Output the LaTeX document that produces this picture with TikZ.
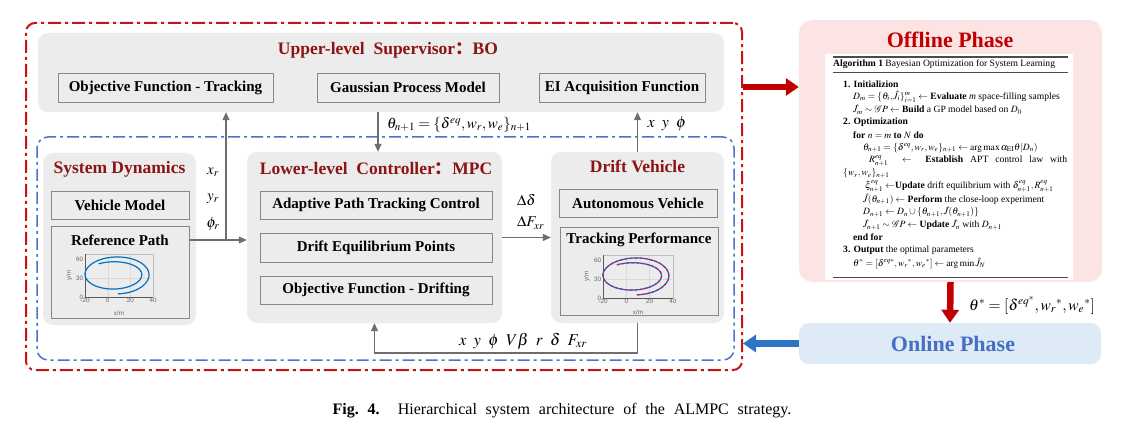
\documentclass[tikz,border=0pt]{standalone}
\usepackage{mathptmx}
\usepackage{fontspec}
\setmainfont{Liberation Serif}
\newfontfamily\cjkfont{Noto Sans CJK SC}
\newfontfamily\plotfont{Liberation Sans}
\usetikzlibrary{arrows.meta}
\definecolor{outerred}{RGB}{200,20,20}
\definecolor{titlered}{RGB}{140,20,20}
\definecolor{dashblue}{RGB}{75,115,200}
\definecolor{grayfill}{RGB}{236,236,236}
\definecolor{boxline}{RGB}{135,135,135}
\definecolor{arrgray}{RGB}{110,110,110}
\definecolor{pinkfill}{RGB}{253,228,228}
\definecolor{lightblue}{RGB}{222,234,246}
\definecolor{onlineblue}{RGB}{70,112,196}
\definecolor{arrowblue}{RGB}{46,117,198}
\definecolor{phasered}{RGB}{192,0,0}
\definecolor{plotblue}{RGB}{0,114,189}
\definecolor{plotred}{RGB}{225,20,90}
\tikzset{
  grouppanel/.style={fill=grayfill, rounded corners=10pt, inner sep=0pt},
  itembox/.style={draw=boxline, line width=0.9pt, fill=grayfill, inner sep=0pt,
    font=\fontsize{15}{17}\selectfont\bfseries},
  grouptitle/.style={text=titlered, inner sep=0pt, font=\fontsize{17.5}{20}\selectfont\bfseries},
  flow/.style={draw=arrgray, line width=1.1pt, -{Triangle[length=8pt,width=7pt]}},
  mlabel/.style={inner sep=0pt, font=\fontsize{15}{17}\selectfont},
  algo/.style={inner sep=0pt, anchor=west, font=\fontsize{9.6}{10}\selectfont},
  fatred/.style={draw=phasered, line width=6.5pt, -{Triangle[length=13pt,width=17pt]}},
  fatblue/.style={draw=arrowblue, line width=6.5pt, -{Triangle[length=13pt,width=17pt]}},
  ticklab/.style={inner sep=0pt, text=black!60, font=\plotfont\fontsize{6.3}{6.3}\selectfont},
}
\begin{document}
\begin{tikzpicture}[x=1pt,y=-1pt]
\useasboundingbox[fill=white] (0,0) rectangle (1129,430);

% outer frames
\node[draw=outerred, line width=2pt, rounded corners=9pt, dash pattern=on 13pt off 4pt on 3pt off 4pt,
      minimum width=716pt, minimum height=347pt, inner sep=0pt] (outer) at (384,196.5) {};
\node[draw=dashblue, line width=1.5pt, rounded corners=11pt, dash pattern=on 12pt off 4pt on 3pt off 4pt,
      minimum width=697pt, minimum height=223pt, inner sep=0pt] (inner) at (385.5,248.5) {};

% upper supervisor
\node[grouppanel, minimum width=686pt, minimum height=79pt] (upper) at (381,72.5) {};
\node[grouptitle] (upperT) at (388,50) {Upper-level\ \ Supervisor{\cjkfont ：}BO};
\node[itembox, minimum width=215pt, minimum height=29pt] (objT) at (165.5,87.5) {Objective Function - Tracking};
\node[itembox, minimum width=182pt, minimum height=29pt] (gpm) at (408,87.5) {Gaussian Process Model};
\node[itembox, minimum width=166pt, minimum height=29pt] (ei) at (622,87.5) {EI Acquisition Function};

% system dynamics
\node[grouppanel, minimum width=153pt, minimum height=172pt] (sys) at (119.5,239) {};
\node[grouptitle] (sysT) at (119.5,169) {System Dynamics};
\node[itembox, minimum width=138pt, minimum height=28pt] (vm) at (120,205) {Vehicle Model};
\node[itembox, minimum width=138pt, minimum height=92pt] (rp) at (120,272) {};
\node[inner sep=0pt, font=\fontsize{15}{17}\selectfont\bfseries] (rpT) at (120,240) {Reference Path};

% reference path plot
\begin{scope}[shift={(107.7,297)}, xscale=1.133, yscale=-0.633]
  \draw[black!15, line width=0.4pt] (0,0) -- (0,68) (20,0) -- (20,68) (-20,30) -- (40,30);
  \draw[black!25, line width=0.5pt] (-20,68) -- (40,68) -- (40,0);
  \draw[black!65, line width=0.6pt] (-20,68) -- (-20,0) -- (40,0);
  \draw[plotblue, line width=1.2pt] plot[domain=-90:480, samples=160, smooth, variable=\t]
    ({-20+(29-5*((\t+90)/570))*(1+cos(\t))}, {36+(31-12*((\t+90)/570))*sin(\t)});
  \node[ticklab, anchor=north] (rx1) at (-20,-2) {-20};
  \node[ticklab, anchor=north] (rx2) at (0,-2) {0};
  \node[ticklab, anchor=north] (rx3) at (20,-2) {20};
  \node[ticklab, anchor=north] (rx4) at (40,-2) {40};
  \node[ticklab, anchor=east] (ry1) at (-21.5,0) {0};
  \node[ticklab, anchor=east] (ry2) at (-21.5,30) {30};
  \node[ticklab, anchor=east] (ry3) at (-21.5,60) {60};
  \node[ticklab, rotate=90] (rylab) at (-34,34) {y/m};
  \node[ticklab] (rxlab) at (10,-25) {x/m};
\end{scope}

% lower-level controller
\node[grouppanel, minimum width=255pt, minimum height=171pt] (llc) at (374.5,237.5) {};
\node[grouptitle] (llcT) at (376,169) {Lower-level\ \ Controller{\cjkfont ：}MPC};
\node[itembox, minimum width=232pt, minimum height=28pt] (aptc) at (376,205) {Adaptive Path Tracking Control};
\node[itembox, minimum width=232pt, minimum height=29pt] (dep) at (376,247.5) {Drift Equilibrium Points};
\node[itembox, minimum width=232pt, minimum height=28pt] (ofd) at (376,290) {Objective Function - Drifting};

% drift vehicle
\node[grouppanel, minimum width=173pt, minimum height=171pt] (dv) at (637.5,237.5) {};
\node[grouptitle] (dvT) at (637.5,166) {Drift Vehicle};
\node[itembox, minimum width=158pt, minimum height=28pt] (av) at (638,203) {Autonomous Vehicle};
\node[itembox, minimum width=158pt, minimum height=88pt] (tp) at (639,271) {};
\node[inner sep=0pt, font=\fontsize{15}{17}\selectfont\bfseries] (tpT) at (639,240) {Tracking Performance};

% tracking performance plot
\begin{scope}[shift={(626.3,298)}, xscale=1.167, yscale=-0.633]
  \draw[black!15, line width=0.4pt] (0,0) -- (0,68) (20,0) -- (20,68) (-20,30) -- (40,30);
  \draw[black!25, line width=0.5pt] (-20,68) -- (40,68) -- (40,0);
  \draw[black!65, line width=0.6pt] (-20,68) -- (-20,0) -- (40,0);
  \draw[plotblue, line width=1.2pt] plot[domain=-90:480, samples=160, smooth, variable=\t]
    ({-20+(29-5*((\t+90)/570))*(1+cos(\t))}, {36+(31-12*((\t+90)/570))*sin(\t)});
  \draw[plotred, line width=1.2pt, dash pattern=on 2.5pt off 2.5pt] plot[domain=-90:480, samples=160, smooth, variable=\t]
    ({-20+(29-5*((\t+90)/570))*(1+cos(\t))}, {36+(31-12*((\t+90)/570))*sin(\t)});
  \node[ticklab, anchor=north] (tx1) at (-20,-2) {-20};
  \node[ticklab, anchor=north] (tx2) at (0,-2) {0};
  \node[ticklab, anchor=north] (tx3) at (20,-2) {20};
  \node[ticklab, anchor=north] (tx4) at (40,-2) {40};
  \node[ticklab, anchor=east] (ty1) at (-21.5,0) {0};
  \node[ticklab, anchor=east] (ty2) at (-21.5,30) {30};
  \node[ticklab, anchor=east] (ty3) at (-21.5,60) {60};
  \node[ticklab, rotate=90] (tylab) at (-34,34) {y/m};
  \node[ticklab] (txlab) at (10,-23) {x/m};
\end{scope}

% connectors in the left part
\coordinate (j1) at (226,240);
\coordinate (gx) at (378,0);
\coordinate (fb) at (0,353);
\draw[flow] (rpT.east -| rp.east) -- (rpT.east -| llc.west);
\draw[flow] (j1) -- (j1 |- upper.south);
\draw[flow] (gx |- upper.south) -- (gx |- llc.north);
\draw[flow] (dv.north) -- (dv.north |- upper.south);
\draw[flow] (llc.east) -- (dv.west);
\draw[flow] (dv.south) -- (dv.south |- fb) -| (llc.south);

% math labels
\node[mlabel] (lxr) at (213,172) {$x_r$};
\node[mlabel] (lyr) at (213,199) {$y_r$};
\node[mlabel] (lpr) at (213,224) {$\phi_r$};
\node[mlabel, font=\fontsize{15}{17}\selectfont] (ltheta) at (459,125) {$\theta_{n+1}=\{\delta^{eq},w_r,w_e\}_{n+1}$};
\node[mlabel, font=\fontsize{16}{18}\selectfont] (lxyp) at (667,124) {$x\;\;y\;\;\phi$};
\node[mlabel, anchor=west] (ldd) at (517,200) {$\Delta\delta$};
\node[mlabel, anchor=west] (ldf) at (517,223) {$\Delta F_{xr}$};
\node[mlabel, font=\fontsize{16.5}{18}\selectfont] (lfb) at (523,341) {$x\;\;y\;\;\phi\;\;V\beta\;\;r\;\;\delta\;\;F_{xr}$};

% offline phase
\node[fill=pinkfill, rounded corners=13pt, minimum width=303pt, minimum height=262pt, inner sep=0pt] (off) at (950.5,151) {};
\node[inner sep=0pt, text=phasered, font=\fontsize{22}{24}\selectfont\bfseries] (offT) at (950,40) {Offline Phase};
\node[fill=white, minimum width=248pt, minimum height=226pt, inner sep=0pt] (panel) at (949,167) {};
\coordinate (r1) at (833,57);
\coordinate (r2) at (833,72);
\coordinate (r3) at (833,277);
\coordinate (rr) at (1068,0);
\draw[black!70, line width=1.2pt] (r1) -- (r1 -| rr);
\draw[black!70, line width=0.7pt] (r2) -- (r2 -| rr);
\draw[black!70, line width=0.9pt] (r3) -- (r3 -| rr);
\node[algo] (a0) at (833,64.5) {\textbf{Algorithm 1} Bayesian Optimization for System Learning};
\node[algo] (a1) at (843,84) {\textbf{1. Initializion}};
\node[algo] (a2) at (853,96.8) {$D_m=\{\theta_i,\hat{J}_i\}_{i=1}^m\leftarrow$ \textbf{Evaluate} \textit{m} space-filling samples};
\node[algo] (a3) at (853,109.6) {$\hat{J}_m\sim\mathcal{G}P\leftarrow$ \textbf{Build} a GP model based on $D_0$};
\node[algo] (a4) at (843,122.4) {\textbf{2. Optimization}};
\node[algo] (a5) at (853,135.2) {\textbf{for} $n=m$ \textbf{to} $N$ \textbf{do}};
\node[algo] (a6) at (863,148) {$\theta_{n+1}=\{\delta^{eq},w_r,w_e\}_{n+1}\leftarrow\arg\max\alpha_{\mathrm{EI}}\theta|D_n)$};
\node[algo] (a7) at (869,160.8) {\makebox[198pt][s]{$R^{eq}_{n+1}$ \ $\leftarrow$ \ \textbf{Establish} APT control law with}};
\node[algo] (a8) at (843,173.6) {$\{w_r,w_e\}_{n+1}$};
\node[algo] (a9) at (865,186.4) {$\xi^{eq}_{n+1}$ $\leftarrow$\textbf{Update} drift equilibrium with $\delta^{eq}_{n+1},R^{eq}_{n+1}$};
\node[algo] (a10) at (863,199.2) {$\hat{J}(\theta_{n+1})\leftarrow$ \textbf{Perform} the close-loop experiment};
\node[algo] (a11) at (863,212) {$D_{n+1}\leftarrow D_n\cup\{\theta_{n+1},\hat{J}(\theta_{n+1})\}$};
\node[algo] (a12) at (863,224.8) {$\hat{J}_{n+1}\sim\mathcal{G}P\leftarrow$ \textbf{Update} $\hat{J}_n$ with $D_{n+1}$};
\node[algo] (a13) at (853,237.6) {\textbf{end for}};
\node[algo] (a14) at (843,250.4) {\textbf{3. Output} the optimal parameters};
\node[algo] (a15) at (853,263.2) {$\theta^*=[\delta^{eq*},w_r{}^*,w_e{}^*]\leftarrow\arg\min\hat{J}_N$};

% online phase
\node[fill=lightblue, rounded corners=10pt, minimum width=302pt, minimum height=41pt, inner sep=0pt] (on) at (950,343.5) {};
\node[inner sep=0pt, text=onlineblue, font=\fontsize{22}{24}\selectfont\bfseries] (onT) at (953,344) {Online Phase};
\node[mlabel, font=\fontsize{15.5}{17}\selectfont] (lstar) at (1032,305) {$\theta^*=[\delta^{eq^*},w_r{}^*,w_e{}^*]$};

% phase arrows
\coordinate (ra) at (0,87);
\draw[fatred] (outer.east |- ra) -- (off.west |- ra);
\draw[fatred] (off.south) -- (on.north);
\draw[fatblue] (on.west) -- (on.west -| outer.east);

% caption
\node[inner sep=0pt, font=\fontsize{16}{18}\selectfont] (cap) at (562,411)
  {\spaceskip=0.55em \textbf{Fig.\ 4.}\hspace{0.5em} Hierarchical system architecture of the ALMPC strategy.};
\end{tikzpicture}
\end{document}
